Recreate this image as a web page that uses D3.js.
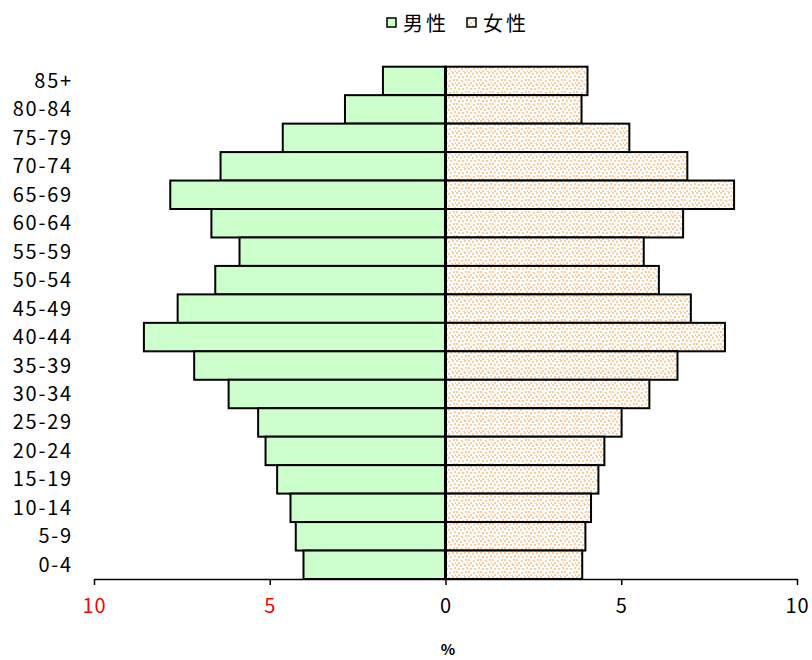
<!DOCTYPE html>
<html>
<head>
<meta charset="utf-8">
<script src="https://cdn.jsdelivr.net/npm/d3@7"></script>
<style>
  body { margin: 0; background: #fff; }
  text { font-family: "Noto Sans CJK JP", "Noto Sans", sans-serif; }
</style>
</head>
<body>
<div id="chart"></div>
<script>
// age groups, top to bottom
var ageGroups = ["85+", "80-84", "75-79", "70-74", "65-69", "60-64", "55-59", "50-54",
                 "45-49", "40-44", "35-39", "30-34", "25-29", "20-24", "15-19", "10-14", "5-9", "0-4"];
// percent, same order
var male   = [1.78, 2.86, 4.63, 6.40, 7.83, 6.66, 5.86, 6.55, 7.62, 8.58, 7.15, 6.17, 5.33, 5.12, 4.79, 4.41, 4.26, 4.04];
var female = [4.04, 3.87, 5.23, 6.88, 8.21, 6.76, 5.64, 6.07, 6.98, 7.95, 6.60, 5.80, 5.01, 4.52, 4.35, 4.14, 3.98, 3.89];
var tickVals = [-10, -5, 0, 5, 10];
var seriesNames = ["男性", "女性"];

var width = 812, height = 660;

var svg = d3.select("#chart").append("svg")
    .attr("width", width)
    .attr("height", height);

// stipple pattern for the female bars
var defs = svg.append("defs");
var pat = defs.append("pattern")
    .attr("id", "dots")
    .attr("patternUnits", "userSpaceOnUse")
    .attr("width", 12).attr("height", 12);
pat.append("rect").attr("width", 12).attr("height", 12).attr("fill", "#fff");
[[0,0],[4,1],[8,0],[2,4],[6,4],[10,3],[0,7],[5,8],[9,7],[2,10],[7,11],[11,10]].forEach(function (p) {
  pat.append("rect").attr("x", p[0]).attr("y", p[1]).attr("width", 2).attr("height", 2).attr("fill", "#ffcc99");
});

var x = d3.scaleLinear().domain([-10, 10]).range([94, 797]);
var y = d3.scaleBand().domain(ageGroups).range([66.7, 579]).padding(0);

var rows = ageGroups.map(function (a, i) { return {age: a, m: male[i], f: female[i]}; });

// male bars (left)
svg.append("g").selectAll("rect")
    .data(rows)
  .enter().append("rect")
    .attr("x", function (d) { return x(-d.m); })
    .attr("y", function (d) { return y(d.age); })
    .attr("width", function (d) { return x(0) - x(-d.m); })
    .attr("height", y.bandwidth())
    .attr("fill", "#ccffcc")
    .attr("stroke", "#000")
    .attr("stroke-width", 2);

// female bars (right)
svg.append("g").selectAll("rect")
    .data(rows)
  .enter().append("rect")
    .attr("x", x(0))
    .attr("y", function (d) { return y(d.age); })
    .attr("width", function (d) { return x(d.f) - x(0); })
    .attr("height", y.bandwidth())
    .attr("fill", "url(#dots)")
    .attr("stroke", "#000")
    .attr("stroke-width", 2);

// center line
svg.append("line")
    .attr("x1", x(0)).attr("x2", x(0))
    .attr("y1", y.range()[0]).attr("y2", y.range()[1])
    .attr("stroke", "#000")
    .attr("stroke-width", 3);

// x axis
var xAxis = svg.append("g")
    .attr("transform", "translate(0," + y.range()[1] + ")")
    .call(d3.axisBottom(x).tickValues(tickVals).tickSize(6).tickSizeOuter(0)
          .tickFormat(function (d) { return Math.abs(d); }));
xAxis.select(".domain").attr("stroke", "#000").attr("stroke-width", 1.5);
xAxis.selectAll(".tick line").attr("stroke", "#000").attr("stroke-width", 1.5);
xAxis.selectAll(".tick text")
    .attr("y", 20)
    .attr("font-size", 20)
    .attr("letter-spacing", 1)
    .attr("font-family", "'Noto Sans CJK JP', sans-serif")
    .attr("fill", function (d) { return d < 0 ? "#ff0000" : "#000"; });

// y labels
svg.append("g").selectAll("text")
    .data(ageGroups)
  .enter().append("text")
    .attr("x", 73)
    .attr("y", function (d) { return y(d) + y.bandwidth() / 2; })
    .attr("dy", "0.35em")
    .attr("text-anchor", "end")
    .attr("font-size", 20)
    .attr("letter-spacing", 1.8)
    .attr("fill", "#000")
    .text(function (d) { return d; });

// x axis title
svg.append("text")
    .attr("x", 448).attr("y", 655)
    .attr("text-anchor", "middle")
    .attr("font-size", 15)
    .attr("font-weight", "bold")
    .text("%");

// legend
var legend = svg.append("g");
var legX = [387, 467];
seriesNames.forEach(function (name, i) {
  legend.append("rect")
      .attr("x", legX[i]).attr("y", 18)
      .attr("width", 9).attr("height", 9)
      .attr("fill", i === 0 ? "#ccffcc" : "url(#dots)")
      .attr("stroke", "#000")
      .attr("stroke-width", 1.5);
  legend.append("text")
      .attr("x", legX[i] + 16).attr("y", 24)
      .attr("dy", "0.35em")
      .attr("font-size", 20)
      .attr("letter-spacing", 3)
      .text(name);
});
</script>
</body>
</html>
